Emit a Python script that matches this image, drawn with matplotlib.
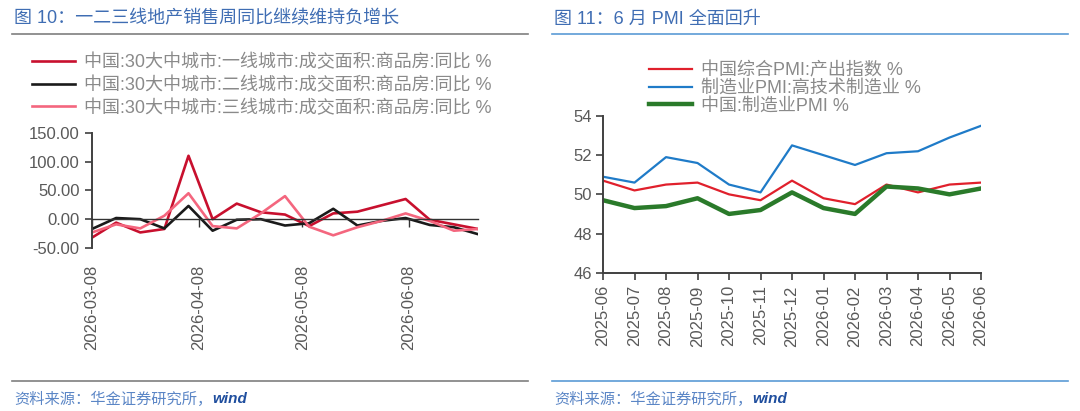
import numpy as np
import pandas as pd
import matplotlib
matplotlib.use("Agg")
import matplotlib.pyplot as plt
import matplotlib.dates as mdates
from matplotlib.lines import Line2D

plt.rcParams['font.family'] = ['Liberation Sans', 'Noto Sans CJK SC', 'DejaVu Sans']
plt.rcParams['axes.unicode_minus'] = False

# ---- 图10 数据：30大中城市商品房成交面积周同比 (%)
week_dates = pd.date_range('2026-03-08', periods=17, freq='7D')
tier1_yoy = [-32, -6, -23, -17, 110, 0, 27, 12, 8, -12, 10, 13, 24, 35, -1, -9, -17]
tier2_yoy = [-17, 2, 0, -16, 23, -20, -1, 0, -11, -7, 18, -11, -3, 2, -10, -14, -26]
tier3_yoy = [-23, -9, -16, 6, 45, -12, -16, 10, 40, -13, -28, -14, -3, 10, -3, -20, -17]
left_labels = ['中国:30大中城市:一线城市:成交面积:商品房:同比 %',
               '中国:30大中城市:二线城市:成交面积:商品房:同比 %',
               '中国:30大中城市:三线城市:成交面积:商品房:同比 %']

# ---- 图11 数据：PMI
months = ['2025-06', '2025-07', '2025-08', '2025-09', '2025-10', '2025-11', '2025-12',
          '2026-01', '2026-02', '2026-03', '2026-04', '2026-05', '2026-06']
composite_output = [50.7, 50.2, 50.5, 50.6, 50.0, 49.7, 50.7, 49.8, 49.5, 50.5, 50.1, 50.5, 50.6]
hitech_pmi = [50.9, 50.6, 51.9, 51.6, 50.5, 50.1, 52.5, 52.0, 51.5, 52.1, 52.2, 52.9, 53.5]
mfg_pmi = [49.7, 49.3, 49.4, 49.8, 49.0, 49.2, 50.1, 49.3, 49.0, 50.4, 50.3, 50.0, 50.3]
right_labels = ['中国综合PMI:产出指数 %', '制造业PMI:高技术制造业 %', '中国:制造业PMI %']

TICK_C = '#595959'
LEG_C = '#8A8A8A'
SPINE_C = '#404040'

fig = plt.figure(figsize=(10.8, 4.11), dpi=100)

# 标题、分隔线、资料来源
fig.text(14 / 1080, 1 - 19 / 411, '图 10：一二三线地产销售周同比继续维持负增长',
         fontsize=13, color='#3F6DB3', va='center', ha='left')
fig.text(554 / 1080, 1 - 19 / 411, '图 11：6 月 PMI 全面回升',
         fontsize=13, color='#3F6DB3', va='center', ha='left')
fig.add_artist(Line2D([12 / 1080, 528 / 1080], [1 - 34 / 411] * 2, color='#7F7F7F', lw=1.2))
fig.add_artist(Line2D([552 / 1080, 1068 / 1080], [1 - 34 / 411] * 2, color='#5B9BD5', lw=1.2))
fig.add_artist(Line2D([12 / 1080, 528 / 1080], [1 - 381 / 411] * 2, color='#7F7F7F', lw=1.2))
fig.add_artist(Line2D([552 / 1080, 1068 / 1080], [1 - 381 / 411] * 2, color='#5B9BD5', lw=1.2))
for x0 in (14, 554):
    t = fig.text(x0 / 1080, 1 - 399 / 411, '资料来源：华金证券研究所，', fontsize=11,
                 color='#5B86C6', style='italic', va='center', ha='left')
    fig.canvas.draw()
    bb = t.get_window_extent()
    fig.text(bb.x1 / 1080, 1 - 399 / 411, 'wind', fontsize=11, color='#1F4E9E',
             style='italic', weight='bold', va='center', ha='left')

# ---- 左图
ax1 = fig.add_axes([92 / 1080, 1 - 248 / 411, (478 - 92) / 1080, (248 - 132.7) / 411])
l1, = ax1.plot(week_dates, tier1_yoy, color='#C8102E', lw=1.9)
l2, = ax1.plot(week_dates, tier2_yoy, color='#1A1A1A', lw=1.9)
l3, = ax1.plot(week_dates, tier3_yoy, color='#F4667E', lw=1.9)
ax1.set_xlim(week_dates[0], week_dates[-1])
ax1.set_ylim(-50, 150)
ax1.set_yticks([-50, 0, 50, 100, 150])
ax1.yaxis.set_major_formatter(matplotlib.ticker.FormatStrFormatter('%.2f'))
ax1.xaxis.set_major_locator(mdates.MonthLocator(bymonthday=8))
ax1.xaxis.set_major_formatter(mdates.DateFormatter('%Y-%m-%d'))
ax1.spines['top'].set_visible(False)
ax1.spines['right'].set_visible(False)
ax1.spines['bottom'].set_position(('data', 0))
ax1.spines['bottom'].set_color('#333333')
ax1.spines['bottom'].set_linewidth(1.0)
ax1.spines['left'].set_color(SPINE_C)
ax1.spines['left'].set_linewidth(1.4)
ax1.tick_params(axis='y', length=5, width=1.2, color=SPINE_C, labelsize=12,
                labelcolor=TICK_C, pad=4)
ax1.tick_params(axis='x', length=6, width=1.0, color='#333333', labelsize=12,
                labelcolor=TICK_C, pad=27, labelrotation=90)
ax1.patch.set_alpha(0)
fig.legend([l1, l2, l3], left_labels, loc='upper left',
           bbox_to_anchor=(32 / 1080, 1 - 54 / 411), frameon=False, fontsize=13,
           labelcolor=LEG_C, handlelength=2.4, handletextpad=0.5,
           labelspacing=0.29, borderpad=0, borderaxespad=0)

# ---- 右图
ax2 = fig.add_axes([603 / 1080, 1 - 272.7 / 411, (981 - 603) / 1080, (272.7 - 116) / 411])
x = np.arange(len(months))
r1, = ax2.plot(x, composite_output, color='#E0202C', lw=1.6)
r2, = ax2.plot(x, hitech_pmi, color='#1F7BC8', lw=1.6)
r3, = ax2.plot(x, mfg_pmi, color='#2A7A2A', lw=3.2)
ax2.set_xlim(0, len(months) - 1)
ax2.set_ylim(46, 54)
ax2.set_yticks([46, 48, 50, 52, 54])
ax2.set_xticks(x)
ax2.set_xticklabels(months)
ax2.spines['top'].set_visible(False)
ax2.spines['right'].set_visible(False)
for s in ('left', 'bottom'):
    ax2.spines[s].set_color(SPINE_C)
    ax2.spines[s].set_linewidth(1.4)
ax2.tick_params(axis='y', length=5, width=1.2, color=SPINE_C, labelsize=12,
                labelcolor=TICK_C, pad=3)
ax2.tick_params(axis='x', length=5, width=1.2, color=SPINE_C, labelsize=12,
                labelcolor=TICK_C, pad=4, labelrotation=90)
fig.legend([r1, r2, r3], right_labels, loc='upper left',
           bbox_to_anchor=(649 / 1080, 1 - 62 / 411), frameon=False, fontsize=13,
           labelcolor=LEG_C, handlelength=2.4, handletextpad=0.5,
           labelspacing=0.04, borderpad=0, borderaxespad=0)

fig.savefig('out.png', dpi=100)
